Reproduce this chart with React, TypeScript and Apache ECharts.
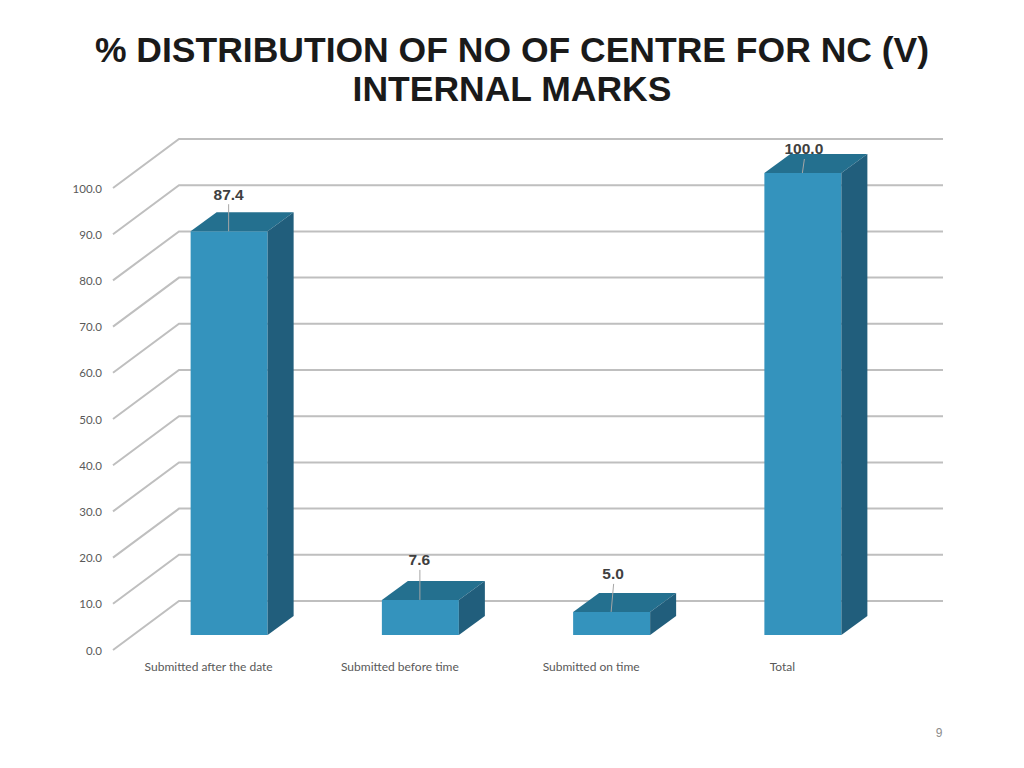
import React, { useEffect, useRef } from "react";
import * as echarts from "echarts";

const titleText = "% DISTRIBUTION OF NO OF CENTRE FOR NC (V)\nINTERNAL MARKS";
const categories = ["Submitted after the date", "Submitted before time", "Submitted on time", "Total"];
const values = [87.4, 7.6, 5.0, 100.0];
const tickValues = [0, 10, 20, 30, 40, 50, 60, 70, 80, 90, 100];
const labelRise = [37, 40, 38, 25];
const labelShift = [-0.5, -1, 1.5, 1];
const leaderRise = [27, 30, 28, 14];
const leaderLean = [0, 0, 2.5, 2];
const pageNumber = "9";

const DEPTH_X = 66, DEPTH_Y = 49;       // floor depth
const BACK_WALL_END = 943;
const BAR_X = 20.5, BAR_Y = 15;         // bar plane offset from the front plane
const BAR_W = 77, BAR_DX = 26, BAR_DY = 19;

export default function App() {
  const ref = useRef<HTMLDivElement>(null);
  useEffect(() => {
    const chart = echarts.init(ref.current!, undefined, { renderer: "svg", width: 1024, height: 768 });
    chart.setOption({
      animation: false,
      backgroundColor: "#ffffff",
      title: {
        text: titleText,
        left: 507,
        top: 25,
        textAlign: "center",
        textStyle: {
          fontFamily: "Liberation Sans",
          fontSize: 35.5,
          fontWeight: "bold",
          color: "#1a1a1a",
          lineHeight: 39,
        },
      },
      grid: { left: 113, top: 188, width: 765, height: 462 },
      xAxis: {
        type: "category",
        data: categories,
        axisLine: { show: false },
        axisTick: { show: false },
        splitLine: { show: false },
        axisLabel: {
          interval: 0,
          margin: 10,
          fontFamily: "Lato",
          fontSize: 12,
          color: "#595959",
        },
      },
      yAxis: {
        type: "value",
        min: 0,
        max: 100,
        interval: 10,
        axisLine: { show: false },
        axisTick: { show: false },
        splitLine: { show: false },
        axisLabel: {
          margin: 11,
          fontFamily: "Lato",
          fontSize: 11.5,
          color: "#595959",
          formatter: (v: number) => v.toFixed(1),
        },
      },
      series: [
        {
          type: "custom",
          silent: true,
          clip: false,
          z: 1,
          data: tickValues.map((t) => [0, t]),
          encode: { x: 0, y: 1 },
          renderItem: (params: any, api: any) => {
            const y = api.coord([0, api.value(1)])[1];
            const x0 = params.coordSys.x;
            return {
              type: "polyline",
              shape: {
                points: [
                  [x0, y],
                  [x0 + DEPTH_X, y - DEPTH_Y],
                  [BACK_WALL_END, y - DEPTH_Y],
                ],
              },
              style: { fill: "none", stroke: "#bfbfbf", lineWidth: 2 },
            };
          },
        },
        {
          type: "custom",
          silent: true,
          clip: false,
          z: 2,
          data: values.map((v, i) => [i, v]),
          encode: { x: 0, y: 1 },
          renderItem: (_: any, api: any) => {
            const i = api.value(0);
            const v = api.value(1);
            const top = api.coord([i, v]);
            const base = api.coord([i, 0]);
            const cx = top[0] + BAR_X;
            const l = cx - BAR_W / 2;
            const r = cx + BAR_W / 2;
            const t = top[1] - BAR_Y;
            const b = base[1] - BAR_Y;
            return {
              type: "group",
              children: [
                { type: "rect", shape: { x: l, y: t, width: BAR_W, height: b - t }, style: { fill: "#3493bd" } },
                {
                  type: "polygon",
                  shape: { points: [[l, t], [l + BAR_DX, t - BAR_DY], [r + BAR_DX, t - BAR_DY], [r, t]] },
                  style: { fill: "#24708f" },
                },
                {
                  type: "polygon",
                  shape: { points: [[r, t], [r + BAR_DX, t - BAR_DY], [r + BAR_DX, b - BAR_DY], [r, b]] },
                  style: { fill: "#215e7c" },
                },
                {
                  type: "line",
                  shape: { x1: cx - 0.5, y1: t, x2: cx - 0.5 + leaderLean[i], y2: t - leaderRise[i] },
                  style: { stroke: "#a6a6a6", lineWidth: 1 },
                },
                {
                  type: "text",
                  x: cx + labelShift[i],
                  y: t - labelRise[i],
                  style: {
                    text: v.toFixed(1),
                    fontFamily: "Liberation Sans",
                    fontSize: 15.5,
                    fontWeight: "bold",
                    fill: "#404040",
                    align: "center",
                    verticalAlign: "middle",
                  },
                },
              ],
            };
          },
        },
      ],
      graphic: [
        {
          type: "text",
          x: 939,
          y: 733,
          style: {
            text: pageNumber,
            fontFamily: "Liberation Sans",
            fontSize: 12,
            fill: "#8c8c8c",
            align: "center",
            verticalAlign: "middle",
          },
        },
      ],
    });
    return () => chart.dispose();
  }, []);
  return <div ref={ref} style={{ position: "fixed", left: 0, top: 0, width: 1024, height: 768 }} />;
}
